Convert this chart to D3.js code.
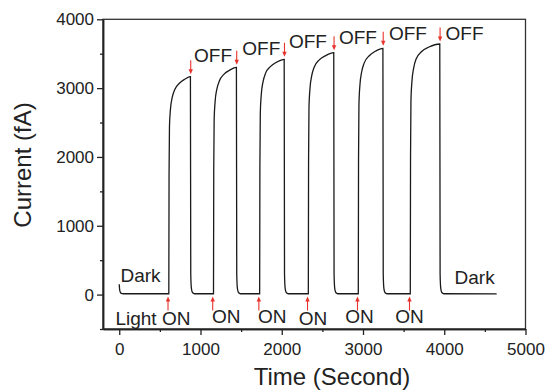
<!DOCTYPE html>
<html>
<head>
<meta charset="utf-8">
<script src="https://cdn.jsdelivr.net/npm/d3@7"></script>
<style>
  body { margin: 0; background: #fff; }
  svg text { font-family: "Liberation Sans", Arial, sans-serif; fill: #222; }
</style>
</head>
<body>
<svg id="chart" width="546" height="391"></svg>
<script>
// photocurrent trace, [time (s), current (fA)]
const trace = [
  [0, 150], [6, 60], [20, 22], [50, 12], [610, 12],
  [613, 1741], [618, 2438], [630, 2691], [652, 2865], [682, 2976], [740, 3071], [805, 3128], [876, 3166],
  [880, 300], [888, 90], [901, 30], [926, 12], [1160, 12],
  [1163, 1816], [1168, 2543], [1180, 2807], [1202, 2988], [1232, 3104], [1290, 3203], [1360, 3262], [1442, 3302],
  [1446, 300], [1454, 90], [1467, 30], [1492, 12], [1728, 12],
  [1731, 1880], [1736, 2633], [1748, 2906], [1770, 3094], [1800, 3214], [1863, 3316], [1938, 3378], [2030, 3419],
  [2034, 300], [2042, 90], [2055, 30], [2080, 12], [2327, 12],
  [2330, 1933], [2335, 2707], [2347, 2988], [2369, 3181], [2399, 3304], [2462, 3410], [2542, 3473], [2640, 3515],
  [2644, 300], [2652, 90], [2665, 30], [2690, 12], [2942, 12],
  [2945, 1968], [2950, 2755], [2962, 3041], [2984, 3238], [3014, 3363], [3077, 3471], [3152, 3535], [3245, 3578],
  [3249, 300], [3257, 90], [3270, 30], [3295, 12], [3582, 12],
  [3585, 2003], [3590, 2804], [3602, 3095], [3624, 3295], [3654, 3423], [3722, 3532], [3812, 3597], [3945, 3641],
  [3949, 300], [3957, 90], [3970, 30], [3995, 12], [4645, 10]
];

// switching events
const onTimes = [610, 1160, 1728, 2327, 2942, 3582];
const offTimes = [876, 1442, 2030, 2640, 3245, 3945];
const offPeaks = [3166, 3302, 3419, 3515, 3578, 3641];

// labels, anchored in data units
const onLabels = [
  { text: 'Light ON', t: -47, v: -443 },
  { text: 'ON', t: 1141, v: -407 },
  { text: 'ON', t: 1707, v: -407 },
  { text: 'ON', t: 2208, v: -443 },
  { text: 'ON', t: 2782, v: -407 },
  { text: 'ON', t: 3397, v: -407 }
];
const offLabels = [
  { text: 'OFF', t: 920, v: 3379 },
  { text: 'OFF', t: 1515, v: 3481 },
  { text: 'OFF', t: 2089, v: 3590 },
  { text: 'OFF', t: 2704, v: 3648 },
  { text: 'OFF', t: 3319, v: 3692 },
  { text: 'OFF', t: 4016, v: 3692 }
];
const darkLabels = [
  { text: 'Dark', t: 15, v: 186 },
  { text: 'Dark', t: 4127, v: 153 }
];

const xMajor = [0, 1000, 2000, 3000, 4000, 5000];
const xMinor = [500, 1500, 2500, 3500, 4500];
const yMajor = [0, 1000, 2000, 3000, 4000];
const yMinor = [-500, 500, 1500, 2500, 3500];

// layout
const plot = { left: 103, right: 525.5, top: 19.3, bottom: 329 };
const red = '#e8322c';

const svg = d3.select('#chart');
const x = d3.scaleLinear().domain([-200, 5000]).range([plot.left, plot.right]);
const y = d3.scaleLinear().domain([-500, 4000]).range([plot.bottom, plot.top]);

// frame
svg.append('rect')
  .attr('x', plot.left).attr('y', plot.top)
  .attr('width', plot.right - plot.left).attr('height', plot.bottom - plot.top)
  .attr('fill', 'none').attr('stroke', '#333').attr('stroke-width', 1.3);

function styleAxis(g) {
  g.select('.domain').attr('stroke', '#222').attr('stroke-width', 1.5);
  g.selectAll('.tick line').attr('stroke', '#222').attr('stroke-width', 1.3);
  g.selectAll('.tick text').attr('fill', '#222').style('font-size', '17px');
}

svg.append('g')
  .attr('transform', `translate(0,${plot.bottom})`)
  .call(d3.axisBottom(x).tickValues(xMinor).tickSize(3).tickFormat('').tickSizeOuter(0))
  .call(styleAxis);
svg.append('g')
  .attr('transform', `translate(0,${plot.bottom})`)
  .call(d3.axisBottom(x).tickValues(xMajor).tickSize(6).tickPadding(8).tickSizeOuter(0).tickFormat(d3.format('d')))
  .call(styleAxis);

svg.append('g')
  .attr('transform', `translate(${plot.left},0)`)
  .call(d3.axisLeft(y).tickValues(yMinor).tickSize(3).tickFormat('').tickSizeOuter(0))
  .call(styleAxis);
svg.append('g')
  .attr('transform', `translate(${plot.left},0)`)
  .call(d3.axisLeft(y).tickValues(yMajor).tickSize(6).tickPadding(3).tickSizeOuter(0).tickFormat(d3.format('d')))
  .call(styleAxis);

// trace
const line = d3.line()
  .x(d => x(d[0]))
  .y(d => y(d[1]))
  .curve(d3.curveMonotoneX);

svg.append('path')
  .datum(trace)
  .attr('d', line)
  .attr('fill', 'none')
  .attr('stroke', '#1a1a1a')
  .attr('stroke-width', 1.3);

// arrows: ON point up from below the baseline, OFF point down onto the peak
function arrow(px, tipY, dir) {
  // dir = -1 up, +1 down; shaft of 14px, head of 5px
  const tail = tipY - dir * 14;
  const g = svg.append('g');
  g.append('line')
    .attr('x1', px).attr('x2', px)
    .attr('y1', tail).attr('y2', tipY - dir * 4)
    .attr('stroke', red).attr('stroke-width', 1.1);
  g.append('path')
    .attr('d', `M${px - 2.2},${tipY - dir * 5}L${px + 2.2},${tipY - dir * 5}L${px},${tipY}Z`)
    .attr('fill', red);
}

onTimes.forEach(t => arrow(x(t) - 0.8, y(0) + 2, -1));
offTimes.forEach((t, i) => arrow(x(t) + 0.3, y(offPeaks[i]) - 2.5, 1));

// annotation text
const labels = onLabels.concat(offLabels, darkLabels);
svg.append('g')
  .selectAll('text')
  .data(labels)
  .join('text')
  .attr('x', d => x(d.t))
  .attr('y', d => y(d.v))
  .style('font-size', '19px')
  .text(d => d.text);

// axis titles
svg.append('text')
  .attr('x', 332)
  .attr('y', 385)
  .attr('text-anchor', 'middle')
  .style('font-size', '24px')
  .text('Time (Second)');

svg.append('text')
  .attr('transform', 'translate(31,165) rotate(-90)')
  .attr('text-anchor', 'middle')
  .style('font-size', '24px')
  .text('Current (fA)');
</script>
</body>
</html>
